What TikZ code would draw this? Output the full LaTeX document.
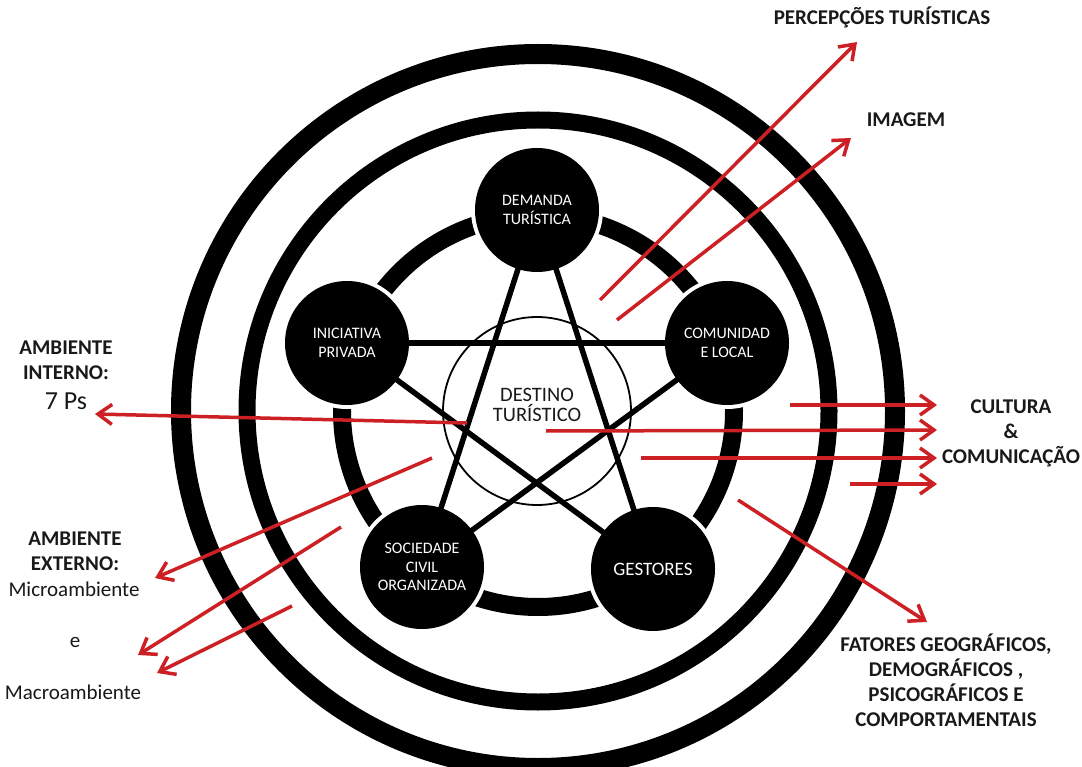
\documentclass[tikz,border=0pt]{standalone}
\usepackage{fontspec}
\setmainfont{Carlito}
\usetikzlibrary{arrows.meta}
\definecolor{arrowred}{RGB}{204,32,36}
\definecolor{labelink}{RGB}{25,25,25}
\begin{document}
\begin{tikzpicture}[x=1pt,y=-1pt,
  thickring/.style={draw=black},
  gap/.style={fill=white},
  actor/.style={circle, fill=black, inner sep=0pt, minimum size=124pt, text=white, align=center, font=\fontsize{16}{18.5}\selectfont},
  starline/.style={line width=5.5pt, line cap=round},
  redarrow/.style={draw=arrowred, line width=3.5pt, -{Straight Barb[length=14pt,width=20pt]}},
  boldlabel/.style={align=center, text=labelink, font=\bfseries\fontsize{21}{25}\selectfont},
  plainlabel/.style={align=center, text=labelink, font=\fontsize{21}{25}\selectfont},
]
\clip (0,0) rectangle (1082,767);
\useasboundingbox (0,0) rectangle (1082,767);
\fill[white] (0,0) rectangle (1082,767);

% centres
\coordinate (c) at (538,411);
\coordinate (pdem) at (537,210);
\coordinate (pini) at (347,343);
\coordinate (pcom) at (727,343);
\coordinate (psoc) at (422,567);
\coordinate (pges) at (653,569);

% rings
\draw[thickring, line width=20pt] (c) circle[radius=357];
\draw[thickring, line width=17pt] (c) circle[radius=291];
\draw[thickring, line width=18pt] (c) circle[radius=196];
\foreach \p in {pdem,pini,pcom,psoc,pges} \fill[gap] (\p) circle[radius=66];

% thin inner circle
\draw[line width=1.8pt] (537,411) circle[radius=94];

% actor nodes
\node[actor] (dem) at (pdem) {DEMANDA\\TURÍSTICA};
\node[actor] (ini) at (pini) {INICIATIVA\\PRIVADA};
\node[actor] (com) at (pcom) {COMUNIDAD\\E LOCAL};
\node[actor] (soc) at (psoc) {SOCIEDADE\\CIVIL\\ORGANIZADA};
\node[actor, font=\fontsize{19}{22}\selectfont] (ges) at (pges) {GESTORES};

% star
\draw[starline] (dem) -- (soc);
\draw[starline] (dem) -- (ges);
\draw[starline] (ini) -- (com);
\draw[starline] (ini) -- (ges);
\draw[starline] (soc) -- (com);

% centre text
\node[align=center, text=labelink, font=\fontsize{20.5}{20}\selectfont] (dest) at (537,405) {DESTINO\\TURÍSTICO};

% labels
\node[boldlabel] (perc) at (882,17) {PERCEPÇÕES TURÍSTICAS};
\node[boldlabel] (imag) at (906,120) {IMAGEM};
\node[boldlabel] (aint) at (66,360) {AMBIENTE\\INTERNO:};
\node[plainlabel, font=\fontsize{26}{28}\selectfont] (sete) at (66,401) {7 Ps};
\node[boldlabel] (aext) at (75,551) {AMBIENTE\\EXTERNO:};
\node[plainlabel] (micro) at (74,589) {Microambiente};
\node[plainlabel] (e) at (75,642) {e};
\node[plainlabel] (macro) at (73,692) {Macroambiente};
\node[boldlabel] (cult) at (1011,433) {CULTURA\\\&\\COMUNICAÇÃO};
\node[boldlabel] (fat) at (946,680) {FATORES GEOGRÁFICOS,\\DEMOGRÁFICOS ,\\PSICOGRÁFICOS E\\COMPORTAMENTAIS};

% arrow end points
\coordinate (s1) at (600,300);  \coordinate (t1) at (857,42);
\coordinate (s2) at (617,320);  \coordinate (t2) at (851,138);
\coordinate (s3) at (467,423);  \coordinate (t3) at (95,414);
\coordinate (s4) at (432,458);  \coordinate (t4) at (155,578);
\coordinate (s5) at (341,527);  \coordinate (t5) at (138,655);
\coordinate (s6) at (292,606);  \coordinate (t6) at (157,673);
\coordinate (s7) at (790,405);  \coordinate (t7) at (937,405);
\coordinate (s8) at (546,431);  \coordinate (t8) at (937,430);
\coordinate (s9) at (641,458);  \coordinate (t9) at (937,458);
\coordinate (s10) at (850,484); \coordinate (t10) at (937,484);
\coordinate (s11) at (738,500); \coordinate (t11) at (927,622);

\foreach \i in {1,...,11} \draw[redarrow] (s\i) -- (t\i);
\end{tikzpicture}
\end{document}
